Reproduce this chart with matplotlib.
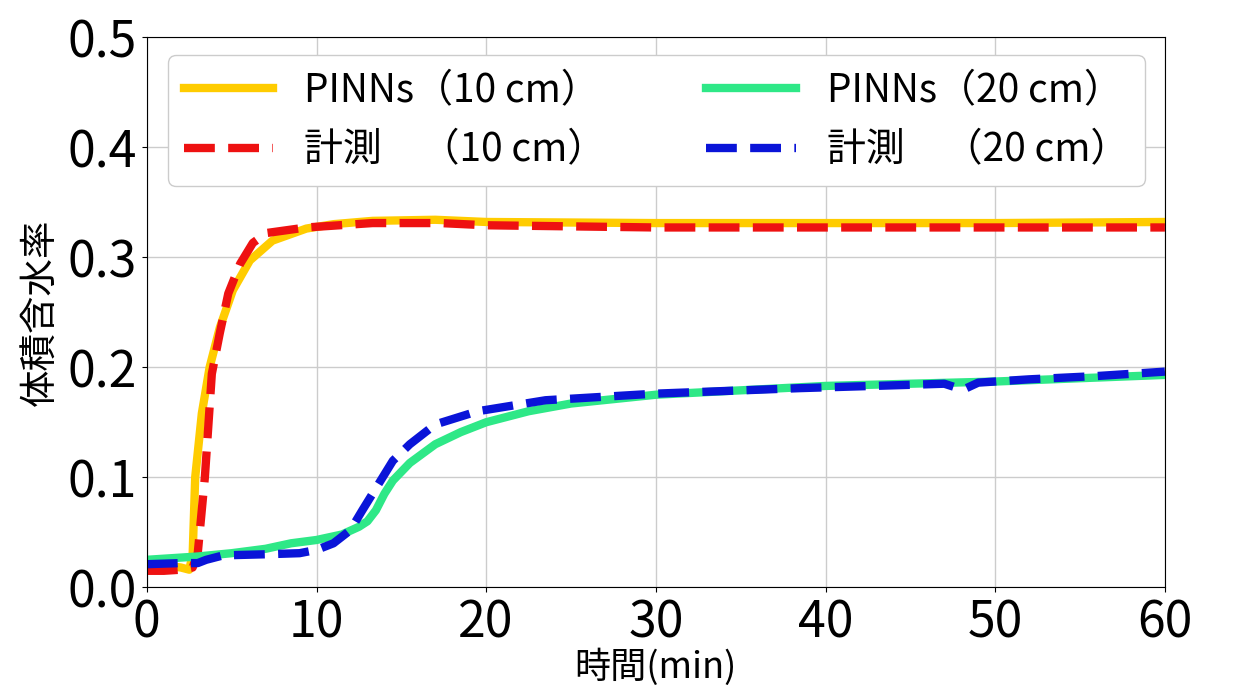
import matplotlib.pyplot as plt

plt.rcParams["font.family"] = ["Noto Sans CJK JP", "DejaVu Sans"]

# PINNs (10 cm)
t_pinn10 = [0, 1, 2, 2.5, 2.7, 2.85, 3.24, 3.7, 4.3, 5.07, 6.07, 7.4, 9.4, 11, 13.3, 17, 20, 30, 40, 50, 60]
v_pinn10 = [0.022, 0.02, 0.018, 0.016, 0.03, 0.1, 0.158, 0.2, 0.236, 0.27, 0.297, 0.315, 0.326, 0.33, 0.333, 0.334, 0.332, 0.331, 0.331, 0.331, 0.332]

# measured (10 cm)
t_meas10 = [0, 1, 2, 2.7, 3.0, 3.42, 3.83, 4.3, 4.8, 5.5, 6.25, 7.07, 9.4, 13.3, 17.3, 20, 30, 40, 50, 60]
v_meas10 = [0.015, 0.015, 0.016, 0.018, 0.031, 0.1, 0.194, 0.231, 0.267, 0.294, 0.313, 0.322, 0.327, 0.331, 0.331, 0.329, 0.327, 0.327, 0.327, 0.327]

# PINNs (20 cm)
t_pinn20 = [0, 3, 5, 7, 8.5, 10, 11.5, 12.5, 13, 13.5, 14, 14.5, 15.5, 17, 18.5, 20, 22.5, 25, 30, 35, 40, 45, 50, 55, 60]
v_pinn20 = [0.025, 0.028, 0.031, 0.035, 0.04, 0.043, 0.048, 0.055, 0.06, 0.07, 0.085, 0.097, 0.113, 0.13, 0.141, 0.15, 0.16, 0.167, 0.175, 0.179, 0.183, 0.185, 0.187, 0.19, 0.193]

# measured (20 cm)
t_meas20 = [0, 2, 3, 3.5, 4.5, 7, 9, 10, 11, 12, 12.7, 13.5, 14.5, 15.5, 17, 19.5, 23.5, 30, 38.5, 45, 47, 47.6, 48.3, 49, 52, 56, 60]
v_meas20 = [0.021, 0.022, 0.022, 0.025, 0.029, 0.03, 0.031, 0.034, 0.04, 0.052, 0.07, 0.09, 0.115, 0.13, 0.148, 0.16, 0.17, 0.176, 0.181, 0.184, 0.185, 0.182, 0.181, 0.186, 0.189, 0.192, 0.196]

fig = plt.figure(figsize=(12.34, 7), dpi=100)
ax = fig.add_axes([0.119, 0.161, 0.825, 0.786])

ax.plot(t_pinn10, v_pinn10, color="#FFCC00", lw=6, label="PINNs（10 cm）")
ax.plot(t_meas10, v_meas10, color="#EE1111", lw=6, ls="--", label="計測　（10 cm）")
ax.plot(t_pinn20, v_pinn20, color="#2EE887", lw=6, label="PINNs（20 cm）")
ax.plot(t_meas20, v_meas20, color="#0A14D8", lw=6, ls="--", label="計測　（20 cm）")

ax.set_xlim(0, 60)
ax.set_ylim(0, 0.5)
ax.set_xticks([0, 10, 20, 30, 40, 50, 60])
ax.set_yticks([0.0, 0.1, 0.2, 0.3, 0.4, 0.5])
ax.tick_params(labelsize=36)
ax.grid(True, color="#cccccc", lw=1)
ax.set_xlabel("時間(min)", fontsize=26, labelpad=0)
ax.set_ylabel("体積含水率", fontsize=27, labelpad=6)

ax.legend(ncol=2, fontsize=28, loc="upper left", mode="expand",
          bbox_to_anchor=(0.021, 0.5, 0.959, 0.467), borderaxespad=0,
          handlelength=2.3, handletextpad=0.8, framealpha=1)

plt.savefig("out.png")
plt.close()
